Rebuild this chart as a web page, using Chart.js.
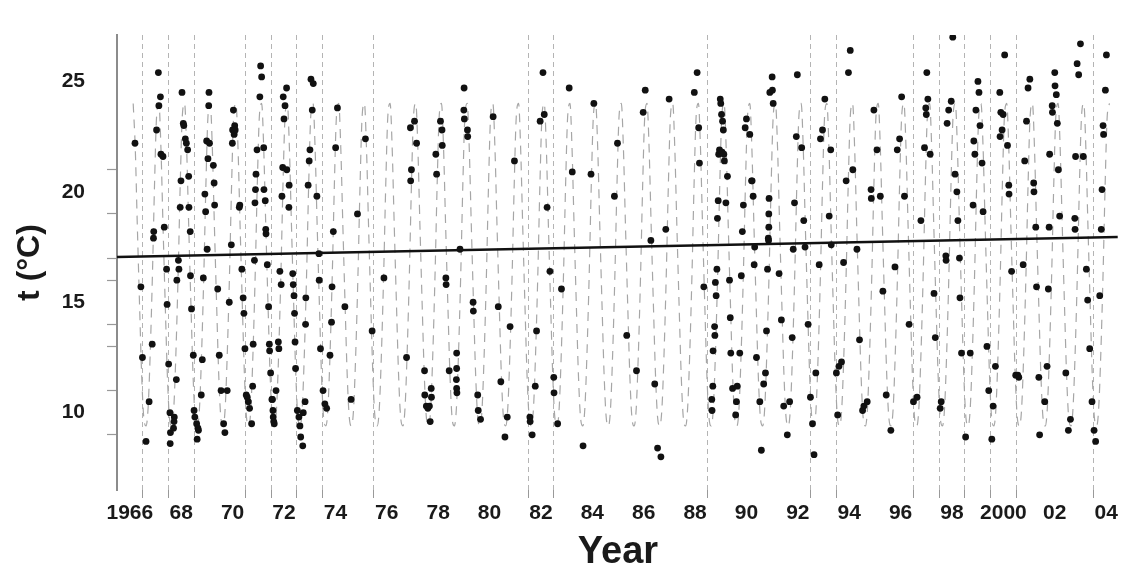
<!DOCTYPE html>
<html>
<head>
<meta charset="utf-8">
<script src="https://cdn.jsdelivr.net/npm/chart.js@4.4.1/dist/chart.umd.min.js"></script>
<style>
  html, body { margin: 0; padding: 0; background: #fff; }
</style>
</head>
<body>
<canvas id="chart" width="1146" height="572"></canvas>
<script>
// observed temperatures: [year (fraction), t °C]
const observations = [
  [1966.70,22.2],[1966.93,15.7],[1966.99,12.5],[1967.13,8.7],[1967.25,10.5],[1967.37,13.1],[1967.42,17.9],[1967.43,18.2],
  [1967.54,22.8],[1967.61,25.4],[1967.63,23.9],[1967.69,24.3],[1967.71,21.7],[1967.79,21.6],[1967.84,18.4],[1967.93,16.5],[1967.95,14.9],
  [1968.01,12.2],[1968.06,10.0],[1968.07,8.6],[1968.08,9.1],[1968.20,9.3],[1968.22,9.6],[1968.23,9.8],[1968.31,11.5],[1968.33,16.0],
  [1968.39,16.9],[1968.41,16.5],[1968.46,19.3],[1968.49,20.5],[1968.53,24.5],[1968.58,23.1],[1968.60,23.0],[1968.66,22.4],[1968.70,22.2],
  [1968.75,21.9],[1968.79,20.7],[1968.80,19.3],[1968.85,18.2],[1968.86,16.2],[1968.90,14.7],[1968.97,12.6],
  [1969.00,10.1],[1969.03,9.8],[1969.10,9.5],[1969.15,9.3],[1969.17,9.2],[1969.12,8.8],[1969.28,10.8],[1969.32,12.4],[1969.36,16.1],
  [1969.42,19.9],[1969.45,19.1],[1969.49,22.3],[1969.51,17.4],[1969.54,21.5],[1969.57,23.9],[1969.58,24.5],[1969.60,22.2],[1969.75,21.2],
  [1969.78,20.4],[1969.80,19.4],[1969.92,15.6],[1969.98,12.6],
  [1970.05,11.0],[1970.15,9.5],[1970.20,9.1],[1970.29,11.0],[1970.37,15.0],[1970.45,17.6],[1970.49,22.2],[1970.50,22.8],[1970.53,23.7],
  [1970.56,22.6],[1970.58,23.0],[1970.60,22.8],[1970.76,19.3],[1970.78,19.4],[1970.86,16.5],[1970.91,15.2],[1970.94,14.5],[1970.98,12.9],
  [1971.03,10.8],[1971.07,10.7],[1971.11,10.5],[1971.16,10.2],[1971.24,9.5],[1971.28,11.2],[1971.30,13.1],[1971.35,16.9],[1971.37,19.5],
  [1971.39,20.1],[1971.41,20.8],[1971.45,21.9],[1971.56,24.3],[1971.59,25.7],[1971.63,25.2],[1971.71,22.0],[1971.72,20.1],[1971.77,19.6],
  [1971.79,18.3],[1971.80,18.1],[1971.85,16.7],[1971.90,14.8],[1971.93,13.1],[1971.94,12.8],[1971.98,11.8],
  [1972.03,10.6],[1972.05,10.6],[1972.07,10.1],[1972.08,9.8],[1972.10,9.6],[1972.12,9.5],[1972.19,11.0],[1972.28,13.2],[1972.30,12.9],
  [1972.34,16.4],[1972.39,15.8],[1972.42,19.8],[1972.45,21.1],[1972.47,24.3],[1972.50,23.3],[1972.54,23.9],[1972.60,24.7],[1972.61,21.0],
  [1972.69,19.3],[1972.70,20.3],[1972.84,16.3],[1972.86,15.8],[1972.89,15.3],[1972.91,14.5],[1972.93,13.2],[1972.95,12.0],
  [1973.02,10.1],[1973.08,9.8],[1973.25,10.0],[1973.32,10.5],[1973.12,9.4],[1973.15,8.9],[1973.23,8.5],[1973.34,14.0],[1973.35,15.2],
  [1973.44,20.3],[1973.48,21.4],[1973.51,21.9],[1973.55,25.1],[1973.60,23.7],[1973.64,24.9],[1973.78,19.8],[1973.86,17.2],[1973.87,16.0],[1973.92,12.9],
  [1974.02,11.0],[1974.09,10.4],[1974.16,10.2],[1974.29,12.6],[1974.35,14.1],[1974.37,15.7],[1974.42,18.2],[1974.51,22.0],[1974.58,23.8],[1974.87,14.8],
  [1975.11,10.6],[1975.36,19.0],[1975.67,22.4],[1975.93,13.7],
  [1976.39,16.1],
  [1977.27,12.5],[1977.42,22.9],[1977.43,20.5],[1977.46,21.0],[1977.58,23.2],[1977.66,22.2],[1977.97,11.9],[1977.98,10.8],
  [1978.04,10.3],[1978.10,10.2],[1978.16,10.3],[1978.19,9.6],[1978.23,11.1],[1978.24,10.7],[1978.41,21.7],[1978.44,20.8],[1978.59,23.2],
  [1978.65,22.8],[1978.66,22.1],[1978.80,16.1],[1978.81,15.8],[1978.93,11.9],
  [1979.22,12.7],[1979.22,12.0],[1979.21,11.5],[1979.22,11.1],[1979.23,10.9],[1979.35,17.4],[1979.50,23.7],[1979.51,24.7],[1979.52,23.3],
  [1979.64,22.8],[1979.65,22.5],[1979.86,15.0],[1979.87,14.6],
  [1980.04,10.8],[1980.06,10.1],[1980.15,9.7],[1980.64,23.4],[1980.84,14.8],[1980.94,11.4],
  [1981.10,8.9],[1981.19,9.8],[1981.30,13.9],[1981.47,21.4],
  [1982.07,9.8],[1982.08,9.6],[1982.16,9.0],[1982.28,11.2],[1982.33,13.7],[1982.47,23.2],[1982.58,25.4],[1982.63,23.5],[1982.74,19.3],[1982.85,16.4],
  [1983.00,11.6],[1983.01,10.9],[1983.15,9.5],[1983.30,15.6],[1983.60,24.7],[1983.72,20.9],
  [1984.14,8.5],[1984.45,20.8],[1984.56,24.0],
  [1985.36,19.8],[1985.48,22.2],[1985.84,13.5],
  [1986.22,11.9],[1986.48,23.6],[1986.56,24.6],[1986.78,17.8],[1986.93,11.3],
  [1987.04,8.4],[1987.17,8.0],[1987.36,18.3],[1987.49,24.2],
  [1988.47,24.5],[1988.58,25.4],[1988.64,22.9],[1988.67,21.3],[1988.84,15.7],
  [1989.15,10.6],[1989.16,10.1],[1989.19,11.2],[1989.20,12.8],[1989.26,13.9],[1989.27,13.5],[1989.29,15.9],[1989.32,15.3],[1989.35,16.5],
  [1989.37,18.8],[1989.40,19.6],[1989.42,21.7],[1989.45,21.9],[1989.48,24.2],[1989.50,24.0],[1989.53,23.5],[1989.55,21.8],[1989.57,23.2],
  [1989.60,22.8],[1989.62,21.7],[1989.64,21.4],[1989.70,19.5],[1989.76,20.7],[1989.84,16.0],[1989.87,14.3],[1989.89,12.7],[1989.96,11.1],
  [1990.08,9.9],[1990.11,10.5],[1990.14,11.2],[1990.24,12.7],[1990.30,16.2],[1990.34,18.2],[1990.38,19.4],[1990.45,22.9],[1990.50,23.3],
  [1990.63,22.6],[1990.70,20.5],[1990.72,20.5],[1990.76,19.8],[1990.80,16.7],[1990.82,17.5],[1990.89,12.5],
  [1991.02,10.5],[1991.08,8.3],[1991.17,11.3],[1991.24,11.8],[1991.28,13.7],[1991.32,16.5],[1991.35,17.9],[1991.36,17.8],[1991.37,18.4],
  [1991.37,19.0],[1991.38,19.7],[1991.41,24.5],[1991.50,25.2],[1991.51,24.6],[1991.54,24.0],[1991.77,16.3],[1991.86,14.2],[1991.95,10.3],
  [1992.09,9.0],[1992.18,10.5],[1992.28,13.4],[1992.32,17.4],[1992.37,19.5],[1992.44,22.5],[1992.48,25.3],[1992.65,22.0],[1992.73,18.7],
  [1992.78,17.5],[1992.90,14.0],[1992.99,10.7],
  [1993.07,9.5],[1993.13,8.1],[1993.20,11.8],[1993.33,16.7],[1993.38,22.4],[1993.46,22.8],[1993.55,24.2],[1993.72,18.9],[1993.78,21.9],[1993.80,17.6],
  [1994.00,11.8],[1994.05,9.9],[1994.10,12.1],[1994.20,12.3],[1994.28,16.8],[1994.38,20.5],[1994.47,25.4],[1994.54,26.4],[1994.64,21.0],
  [1994.80,17.4],[1994.90,13.3],
  [1995.02,10.1],[1995.07,10.3],[1995.20,10.5],[1995.35,20.1],[1995.36,19.7],[1995.46,23.7],[1995.58,21.9],[1995.71,19.8],[1995.81,15.5],[1995.94,10.8],
  [1996.12,9.2],[1996.28,16.6],[1996.37,21.9],[1996.46,22.4],[1996.54,24.3],[1996.65,19.8],[1996.83,14.0],
  [1997.00,10.5],[1997.14,10.7],[1997.29,18.7],[1997.43,22.0],[1997.48,23.8],[1997.50,23.5],[1997.52,25.4],[1997.56,24.2],[1997.65,21.7],
  [1997.80,15.4],[1997.85,13.4],
  [1998.04,10.2],[1998.08,10.5],[1998.26,17.1],[1998.27,16.9],[1998.31,23.1],[1998.37,23.7],[1998.47,24.1],[1998.53,27.0],[1998.62,20.8],
  [1998.69,20.0],[1998.73,18.7],[1998.79,17.0],[1998.81,15.2],[1998.87,12.7],
  [1999.03,8.9],[1999.21,12.7],[1999.32,19.4],[1999.35,22.3],[1999.39,21.7],[1999.43,23.7],[1999.51,25.0],[1999.55,24.5],[1999.59,23.0],
  [1999.67,21.3],[1999.71,19.1],[1999.86,13.0],[1999.93,11.0],
  [2000.05,8.8],[2000.10,10.3],[2000.19,12.1],[2000.36,24.5],[2000.37,22.5],[2000.40,23.6],[2000.45,22.8],[2000.49,23.5],[2000.55,26.2],
  [2000.66,22.1],[2000.71,20.3],[2000.72,19.9],[2000.82,16.4],[2000.98,11.7],
  [2001.06,11.7],[2001.10,11.6],[2001.27,16.7],[2001.33,21.4],[2001.40,23.2],[2001.46,24.7],[2001.53,25.1],[2001.68,20.4],[2001.69,20.0],
  [2001.76,18.4],[2001.79,15.7],[2001.88,11.6],[2001.91,9.0],
  [2002.11,10.5],[2002.20,12.1],[2002.25,15.6],[2002.28,18.4],[2002.30,21.7],[2002.40,23.9],[2002.41,23.6],[2002.50,25.4],[2002.51,24.8],
  [2002.56,24.4],[2002.60,23.1],[2002.64,21.0],[2002.69,18.9],[2002.93,11.8],
  [2003.03,9.2],[2003.11,9.7],[2003.28,18.8],[2003.29,18.3],[2003.31,21.6],[2003.37,25.8],[2003.43,25.3],[2003.50,26.7],[2003.61,21.6],
  [2003.73,16.5],[2003.78,15.1],[2003.86,12.9],[2003.95,10.5],
  [2004.03,9.2],[2004.09,8.7],[2004.25,15.3],[2004.31,18.3],[2004.34,20.1],[2004.38,23.0],[2004.40,22.6],[2004.47,24.6],[2004.51,26.2]
];

// mean seasonal cycle (fraction of year, t °C), repeated every year as the dashed curve
const seasonPhase = [0.04, 0.13, 0.21, 0.29, 0.38, 0.46, 0.54, 0.63, 0.71, 0.79, 0.88, 0.96];
const seasonTemp  = [9.8, 9.4, 10.2, 12.6, 16.3, 20.3, 23.4, 24.0, 22.0, 18.5, 14.8, 11.7];

// linear trend
const trendYears = [1966, 2004.95];
const trendTemp  = [17.05, 17.95];

// axis ticks
const firstYear   = 1966;
const lastYear    = 2004;
const gridYears   = [1967, 1968, 1969, 1971, 1972, 1973, 1974, 1976, 1982, 1983, 1989, 1993, 1994, 1997, 1998, 1999, 2000, 2001, 2004];
const yLabelTicks = [10, 15, 20, 25];
const yMarkTicks  = [9, 11, 13, 14, 16, 17, 19, 21];

const yearTicks = [];
for (let y = firstYear; y <= lastYear; y++) yearTicks.push(y);

const seasonal = [];
yearTicks.forEach(y => {
    seasonPhase.forEach((p, i) => {
        const x = y + p;
        if (x >= 1966.6 && x <= 2004.65) seasonal.push({ x: x, y: seasonTemp[i] });
    });
});

const yearLabel = y => {
    if (y % 2) return '';
    if (y === 1966 || y === 2000) return String(y);
    return String(y).slice(2);
};

const font = 'Liberation Sans, Arial, sans-serif';
const lineGrey = '#b4b4b4';
const isGridYear = ctx => ctx.tick && gridYears.includes(Math.round(ctx.tick.value - 0.5));

new Chart(document.getElementById('chart'), {
    type: 'scatter',
    data: {
        datasets: [
            {
                data: observations.map(o => ({ x: o[0], y: o[1] })),
                backgroundColor: '#111',
                borderWidth: 0,
                pointRadius: 3.4,
                order: 0
            },
            {
                data: trendYears.map((x, i) => ({ x: x, y: trendTemp[i] })),
                showLine: true,
                borderColor: '#111',
                borderWidth: 2.5,
                pointRadius: 0,
                order: 1
            },
            {
                data: seasonal,
                showLine: true,
                borderColor: '#a6a6a6',
                borderWidth: 1.2,
                borderDash: [9, 7],
                cubicInterpolationMode: 'monotone',
                pointRadius: 0,
                order: 2
            }
        ]
    },
    options: {
        responsive: false,
        animation: false,
        events: [],
        layout: { padding: { top: 35, right: 27, left: 0, bottom: 0 } },
        plugins: { legend: { display: false }, tooltip: { enabled: false } },
        scales: {
            x: {
                type: 'linear',
                min: 1966,
                max: 2005,
                afterBuildTicks: s => { s.ticks = yearTicks.map(y => ({ value: y + 0.5 })); },
                afterFit: s => { s.height = 82; },
                ticks: {
                    autoSkip: false,
                    maxRotation: 0,
                    padding: 3,
                    color: '#1a1a1a',
                    font: { family: font, size: 21, weight: 'bold' },
                    callback: v => yearLabel(Math.round(v - 0.5))
                },
                grid: {
                    offset: true,
                    lineWidth: 1,
                    tickLength: 8,
                    color: ctx => isGridYear(ctx) ? lineGrey : 'rgba(0,0,0,0)',
                    tickColor: ctx => isGridYear(ctx) ? '#999' : 'rgba(0,0,0,0)',
                    tickBorderDash: []
                },
                border: { display: false, dash: [5, 4] },
                title: {
                    display: true,
                    text: 'Year',
                    color: '#1a1a1a',
                    font: { family: font, size: 38, weight: 'bold' },
                    padding: { top: 0, bottom: -3 }
                }
            },
            y: {
                min: 6.5,
                max: 27.1,
                afterBuildTicks: s => { s.ticks = yLabelTicks.concat(yMarkTicks).map(v => ({ value: v })); },
                afterFit: s => { s.width = 117; },
                ticks: {
                    padding: 22,
                    color: '#1a1a1a',
                    font: { family: font, size: 21, weight: 'bold' },
                    callback: v => yLabelTicks.includes(v) ? String(v) : ''
                },
                grid: {
                    drawOnChartArea: false,
                    tickLength: 10,
                    tickWidth: 1.2,
                    tickColor: ctx => (ctx.tick && yMarkTicks.includes(ctx.tick.value)) ? '#999' : 'rgba(0,0,0,0)'
                },
                border: { display: true, color: '#8c8c8c', width: 2 },
                title: {
                    display: true,
                    text: 't (°C)',
                    color: '#1a1a1a',
                    font: { family: font, size: 32, weight: 'bold' },
                    padding: { top: 11, bottom: 0 }
                }
            }
        }
    }
});
</script>
</body>
</html>
